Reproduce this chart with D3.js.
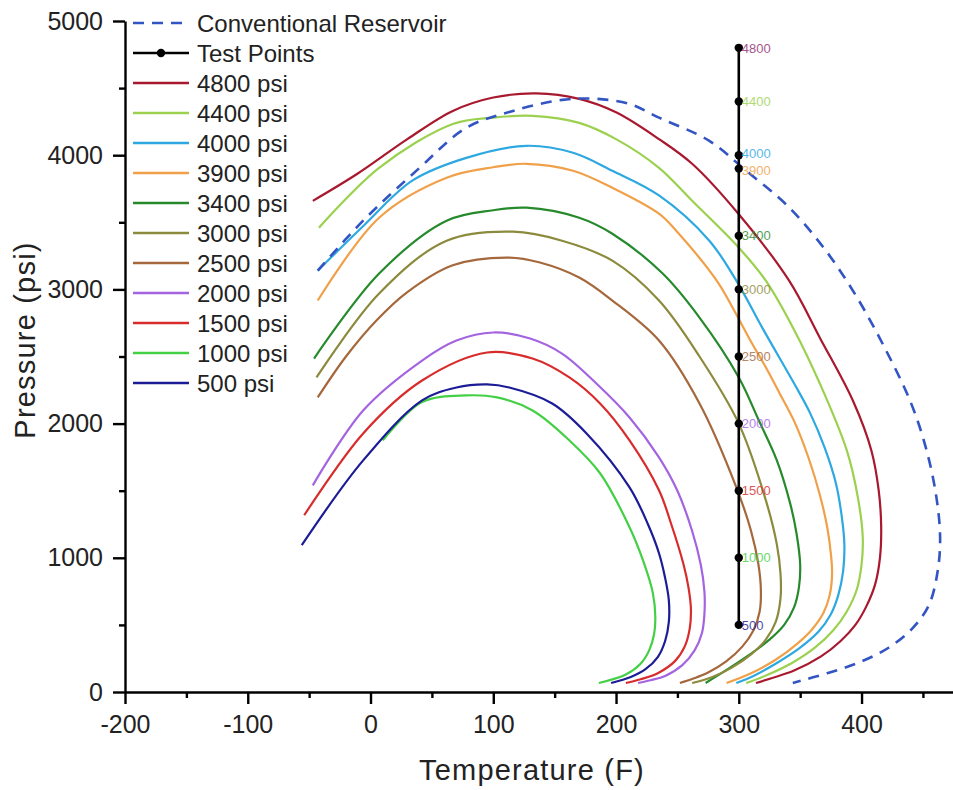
<!DOCTYPE html>
<html>
<head>
<meta charset="utf-8">
<script src="https://cdn.jsdelivr.net/npm/d3@7"></script>
<style>
  html, body { margin: 0; padding: 0; background: #fff; }
  svg { display: block; font-family: "Liberation Sans", Arial, sans-serif; }
</style>
</head>
<body>
<svg id="chart" width="953" height="790"></svg>
<script>
// ---------- DATA ----------
const seriesNames = ["4800 psi","4400 psi","4000 psi","3900 psi","3400 psi","3000 psi","2500 psi","2000 psi","1500 psi","1000 psi","500 psi"];
const seriesColors = ["#a8182e","#9bd14e","#2ea8e0","#f0a048","#268a2c","#8c8a3c","#a5683c","#a464e0","#d82c2c","#44d044","#1c1c96"];

const env4800 = [[-47,3660],[-11,3860],[30,4120],[67,4330],[100,4430],[135,4460],[170,4420],[200,4320],[235,4120],[262,3936],[300,3560],[341,3065],[366,2640],[393,2170],[408,1800],[414,1500],[416,1230],[415,1000],[411,800],[404,640],[395,500],[383,380],[367,265],[345,160],[314,67]];
const env4400 = [[-42,3460],[7,3906],[67,4233],[100,4280],[132,4293],[170,4241],[200,4120],[235,3906],[262,3660],[300,3311],[322,3065],[345,2700],[366,2299],[388,1800],[397,1450],[401,1150],[400,950],[396,760],[388,600],[377,460],[362,330],[344,220],[324,130],[306,67]];
const env4000 = [[-43,3140],[-5,3480],[34,3810],[78,3980],[127,4070],[165,4018],[197,3884],[235,3700],[276,3363],[298,3065],[320,2700],[345,2300],[358,2080],[370,1820],[379,1560],[384,1300],[386,1100],[385,900],[381,720],[375,580],[365,450],[350,330],[330,210],[312,120],[298,67]];
const env3900 = [[-43,2917],[7,3534],[62,3832],[100,3910],[127,3936],[165,3884],[197,3757],[235,3564],[249,3437],[282,3065],[297,2830],[310,2610],[322,2420],[333,2230],[346,2000],[357,1740],[366,1470],[372,1230],[375,1030],[376,880],[374,720],[369,590],[360,470],[347,355],[330,240],[310,140],[290,67]];
const env3400 = [[-46,2485],[7,3118],[62,3512],[100,3590],[127,3609],[170,3534],[197,3415],[238,3118],[268,2790],[300,2344],[316,2030],[331,1726],[342,1400],[347,1183],[350,950],[349,780],[345,630],[337,500],[325,390],[309,280],[291,170],[273,67]];
const env3000 = [[-44,2344],[7,2969],[62,3363],[116,3430],[156,3363],[197,3214],[235,2917],[268,2500],[300,2000],[322,1430],[331,1100],[334,880],[334,700],[330,520],[322,390],[310,280],[294,180],[278,110],[262,67]];
const env2500 = [[-43,2195],[-20,2500],[5,2770],[30,2980],[67,3180],[113,3237],[138,3200],[170,3088],[197,2917],[235,2619],[268,2150],[298,1525],[310,1200],[316,950],[318,760],[317,600],[312,460],[303,340],[290,230],[275,145],[263,100],[252,67]];
const env2000 = [[-47,1540],[-6,2098],[42,2470],[70,2619],[100,2679],[130,2634],[156,2522],[184,2299],[211,2046],[235,1749],[250,1500],[262,1200],[269,950],[272,750],[272,580],[270,440],[264,310],[254,200],[240,120],[228,88],[218,67]];
const env1500 = [[-54,1317],[-6,1927],[42,2321],[95,2530],[132,2485],[162,2344],[187,2150],[211,1875],[235,1503],[245,1250],[255,950],[259,780],[261,620],[260,470],[256,340],[248,230],[234,140],[220,95],[208,67]];
const env1000 = [[10,1875],[42,2160],[78,2210],[103,2195],[132,2098],[162,1875],[187,1630],[211,1228],[222,980],[230,737],[232,560],[231,430],[227,310],[220,210],[208,130],[186,67]];
const env500 = [[-56,1094],[-6,1726],[42,2173],[70,2269],[95,2292],[113,2269],[148,2150],[176,1927],[211,1525],[226,1250],[235,1034],[240,850],[243,685],[243,520],[240,380],[234,260],[224,170],[212,112],[196,67]];
const envelopes = [env4800, env4400, env4000, env3900, env3400, env3000, env2500, env2000, env1500, env1000, env500];

const conventional = [[-43,3140],[-6,3512],[40,3906],[78,4204],[116,4330],[156,4412],[184,4420],[211,4382],[235,4280],[276,4107],[306,3884],[340,3620],[370,3300],[395,2960],[418,2580],[440,2160],[453,1800],[461,1450],[464,1150],[462,900],[455,650],[442,480],[422,330],[398,220],[372,140],[344,67]];

const testTemp = 300;
const testPressures = [4800,4400,4000,3900,3400,3000,2500,2000,1500,1000,500];
const testLabelColors = ["#8e2a6e","#9bd14e","#2ea8e0","#f0a048","#268a2c","#8c8a3c","#a5683c","#a464e0","#d82c2c","#44d044","#1c1c96"];

const xTicks = [-200,-100,0,100,200,300,400];
const xMinor = [-150,-50,50,150,250,350,450];
const yTicks = [0,1000,2000,3000,4000,5000];
const yMinor = [500,1500,2500,3500,4500];

// ---------- CHART ----------
const svg = d3.select("#chart");
const x = d3.scaleLinear().domain([-200, 474.5]).range([125, 953]);
const y = d3.scaleLinear().domain([0, 5000]).range([692, 21]);

const line = d3.line().x(d => x(d[0])).y(d => y(d[1])).curve(d3.curveCatmullRom.alpha(0.5));

envelopes.forEach((env, i) => {
  svg.append("path").datum(env)
    .attr("fill", "none").attr("stroke", seriesColors[i])
    .attr("stroke-width", 2.2).attr("d", line);
});

svg.append("path").datum(conventional)
  .attr("fill", "none").attr("stroke", "#3355c4")
  .attr("stroke-width", 2.6).attr("stroke-dasharray", "11,8")
  .attr("d", line);

// test points
svg.append("line")
  .attr("x1", x(testTemp)).attr("x2", x(testTemp))
  .attr("y1", y(d3.min(testPressures))).attr("y2", y(d3.max(testPressures)))
  .attr("stroke", "#000").attr("stroke-width", 2.6);
svg.selectAll(".tp").data(testPressures).join("circle")
  .attr("cx", x(testTemp)).attr("cy", d => y(d)).attr("r", 4.2).attr("fill", "#000");
svg.selectAll(".tpl").data(testPressures).join("text")
  .attr("x", x(testTemp) + 3).attr("y", d => y(d))
  .attr("dy", d => d === 4000 ? "0.2em" : (d === 3900 ? "0.5em" : "0.36em"))
  .attr("font-size", 13).attr("fill", (d, i) => testLabelColors[i])
  .attr("opacity", 0.8).text(d => d);

// axes
const fmt = d => String(d);
svg.append("g").attr("transform", `translate(0,${y(0)})`)
  .call(d3.axisBottom(x).tickValues(xTicks).tickSize(12).tickSizeOuter(0).tickPadding(11).tickFormat(fmt));
svg.append("g").attr("transform", `translate(0,${y(0)})`)
  .call(d3.axisBottom(x).tickValues(xMinor).tickSize(6).tickSizeOuter(0).tickFormat(""))
  .select(".domain").remove();
svg.append("g").attr("transform", `translate(${x(-200)},0)`)
  .call(d3.axisLeft(y).tickValues(yTicks).tickSize(12).tickSizeOuter(0).tickPadding(10).tickFormat(fmt));
svg.append("g").attr("transform", `translate(${x(-200)},0)`)
  .call(d3.axisLeft(y).tickValues(yMinor).tickSize(6).tickSizeOuter(0).tickFormat(""))
  .select(".domain").remove();

svg.selectAll(".domain, .tick line").attr("stroke", "#000").attr("stroke-width", 2.4);
svg.selectAll(".tick text").attr("font-size", 25).attr("fill", "#222")
  .attr("font-family", "'Liberation Sans', Arial, sans-serif");

// axis titles
svg.append("text").attr("x", 532).attr("y", 770).attr("dy", "0.36em")
  .attr("text-anchor", "middle").attr("font-size", 29).attr("letter-spacing", 1.2).attr("fill", "#222")
  .text("Temperature (F)");
svg.append("text").attr("transform", "translate(25,340) rotate(-90)")
  .attr("dy", "0.36em").attr("text-anchor", "middle").attr("font-size", 29).attr("letter-spacing", 1.2).attr("fill", "#222")
  .text("Pressure (psi)");

// legend
const legendItems = [{name: "Conventional Reservoir", color: "#3355c4", dash: "11,8", dot: false},
                     {name: "Test Points", color: "#000", dash: null, dot: true}]
  .concat(seriesNames.map((n, i) => ({name: n, color: seriesColors[i], dash: null, dot: false})));
const lg = svg.append("g");
legendItems.forEach((it, i) => {
  const yy = 23 + i * 30;
  lg.append("line").attr("x1", 133).attr("x2", 189).attr("y1", yy).attr("y2", yy)
    .attr("stroke", it.color).attr("stroke-width", 2.6)
    .attr("stroke-dasharray", it.dash);
  if (it.dot) lg.append("circle").attr("cx", 161).attr("cy", yy).attr("r", 4.2).attr("fill", "#000");
  lg.append("text").attr("x", 197).attr("y", yy).attr("dy", "0.36em")
    .attr("font-size", 24).attr("fill", "#222").text(it.name);
});
</script>
</body>
</html>
